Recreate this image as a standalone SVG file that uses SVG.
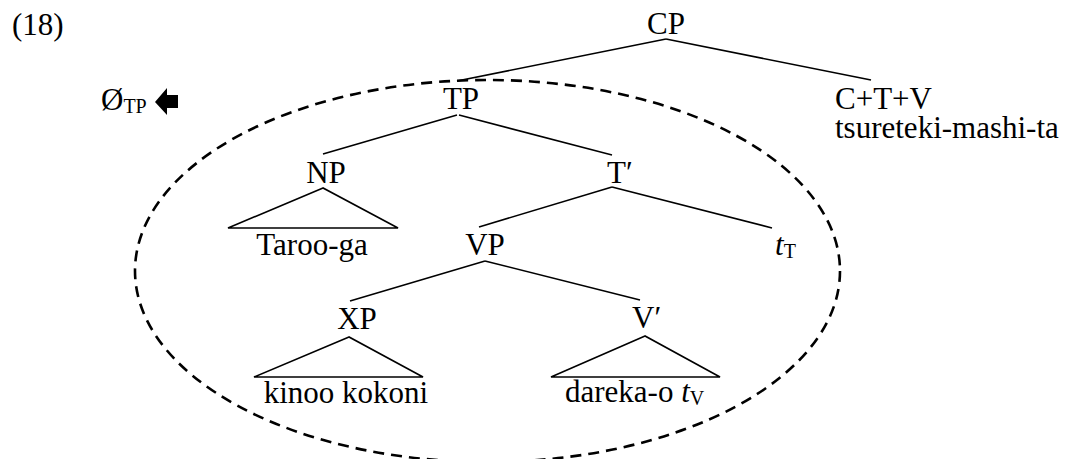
<svg xmlns="http://www.w3.org/2000/svg" width="1087" height="459" viewBox="0 0 1087 459">
<style>
text{font-family:"Liberation Serif","Times New Roman",serif;font-size:31px;fill:#000}
.m{text-anchor:middle}
.sub{font-size:20px}
.i{font-style:italic}
line,polygon.tri{stroke:#000;stroke-width:1.6;fill:none}
.oval{fill:none;stroke:#000;stroke-width:2.6;stroke-dasharray:11 7}
</style>
<rect width="1087" height="459" fill="#fff"/>
<g id="label"><text x="12" y="35">(18)</text></g>
<g id="null-tp"><text x="101" y="110">Ø<tspan class="sub" dy="3">TP</tspan></text>
<polygon points="155,102 167,88 167,95 178,95 178,108 167,108 167,115" fill="#000"/></g>
<ellipse id="oval" class="oval" cx="487.5" cy="271" rx="352.5" ry="191"/>
<g id="connectors">
<line x1="666" y1="39" x2="457" y2="81"/>
<line x1="666" y1="39" x2="871" y2="80"/>
<line x1="457" y1="115" x2="323" y2="154"/>
<line x1="459" y1="115" x2="612" y2="155"/>
<line x1="612" y1="187" x2="479" y2="227"/>
<line x1="612" y1="187" x2="772" y2="228"/>
<line x1="485" y1="261" x2="350" y2="301"/>
<line x1="485" y1="261" x2="640" y2="300"/>
<polygon class="tri" points="323,188 228,228 398,228"/>
<polygon class="tri" points="349,337 254,377 423,377"/>
<polygon class="tri" points="645,336 551,377 720,377"/>
</g>
<g id="cp"><text class="m" x="666" y="34">CP</text></g>
<g id="tp"><text class="m" x="461" y="109">TP</text></g>
<g id="ctv"><text x="835" y="109">C+T+V</text><text x="835" y="138">tsureteki-mashi-ta</text></g>
<g id="np"><text class="m" x="326" y="183">NP</text></g>
<g id="tbar"><text x="607" y="183">T′</text></g>
<g id="taroo"><text class="m" x="312" y="255">Taroo-ga</text></g>
<g id="vp"><text class="m" x="485" y="255">VP</text></g>
<g id="tt"><text x="775" y="255"><tspan class="i">t</tspan><tspan class="sub" dy="3">T</tspan></text></g>
<g id="xp"><text class="m" x="357" y="329">XP</text></g>
<g id="vbar"><text x="632" y="328">V′</text></g>
<g id="kinoo"><text class="m" x="346" y="403">kinoo kokoni</text></g>
<g id="dareka"><text x="565" y="402">dareka-o <tspan class="i">t</tspan><tspan class="sub" dy="3">V</tspan></text></g>
</svg>
